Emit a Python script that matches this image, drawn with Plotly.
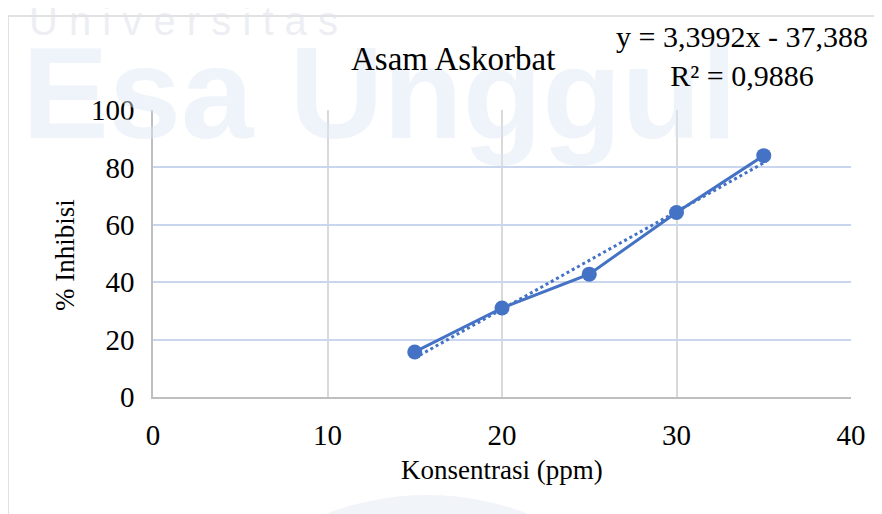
import plotly.graph_objects as go

# ---- data ----
konsentrasi = [15, 20, 25, 30, 35]
inhibisi = [15.7, 31.0, 42.8, 64.3, 84.1]
trend_slope = 3.3992
trend_intercept = -37.388
r_squared = 0.9886
x_ticks = [0, 10, 20, 30, 40]
y_ticks = [0, 20, 40, 60, 80, 100]

BLUE = "#4472C4"
SERIF = "Liberation Serif"

# page offset (default body margin of the html page)
OFF = 8
FW, FH = 882 - OFF, 514 - OFF
# plot-area geometry in page pixels
L, R, T, B = 153, 851, 110, 397
W, H = R - L, B - T
def px(x):
    return (x - L) / W
def py(y):
    return (B - y) / H

trend_x = [konsentrasi[0], konsentrasi[-1]]
trend_y = [trend_slope * v + trend_intercept for v in trend_x]

def fmt(v, nd):
    return f"{abs(v):.{nd}f}".replace(".", ",")

eq_text = (f"y = {fmt(trend_slope, 4)}x {'-' if trend_intercept < 0 else '+'} {fmt(trend_intercept, 3)}"
           f"<br>R² = {fmt(r_squared, 4)}")

fig = go.Figure()
fig.add_trace(go.Scatter(
    x=trend_x, y=trend_y, mode="lines",
    line=dict(color=BLUE, width=3, dash="dot"),
    showlegend=False, hoverinfo="skip"))
fig.add_trace(go.Scatter(
    x=konsentrasi, y=inhibisi, mode="lines+markers",
    line=dict(color=BLUE, width=3),
    marker=dict(color=BLUE, size=15),
    showlegend=False))

shapes = [
    # watermark circle (logo arc)
    dict(type="circle", xref="paper", yref="paper",
         x0=px(147), x1=px(707), y0=py(1055), y1=py(495),
         fillcolor="#f1f4f9", line=dict(width=0), layer="below"),
    # chart border
    dict(type="line", xref="paper", yref="paper",
         x0=px(8), x1=px(8), y0=py(16), y1=py(520),
         line=dict(color="#d9d9d9", width=1.5)),
    dict(type="line", xref="paper", yref="paper",
         x0=px(8), x1=px(890), y0=py(16), y1=py(16),
         line=dict(color="#d9d9d9", width=1.5)),
]

annotations = [
    dict(text="U n i v e r s i t a s", xref="paper", yref="paper",
         x=px(27), y=py(21), xanchor="left", yanchor="middle", showarrow=False,
         font=dict(family="Liberation Sans", size=40,
                   color="rgba(225,228,235,0.6)")),
    dict(text="<b>Esa Unggul</b>", xref="paper", yref="paper",
         x=px(20), y=py(93), xanchor="left", yanchor="middle", showarrow=False,
         font=dict(family="Liberation Sans", size=130,
                   color="rgba(220,230,245,0.45)")),
    dict(text="Asam Askorbat", xref="paper", yref="paper",
         x=px(453), y=py(59), xanchor="center", yanchor="middle", showarrow=False,
         font=dict(family=SERIF, size=33, color="#000000")),
    dict(text=eq_text, xref="paper", yref="paper",
         x=px(742), y=py(56), xanchor="center", yanchor="middle", showarrow=False,
         align="center", font=dict(family=SERIF, size=30, color="#000000")),
    dict(text="% Inhibisi", xref="paper", yref="paper",
         x=px(65), y=py(255), xanchor="center", yanchor="middle", showarrow=False,
         textangle=-90, font=dict(family=SERIF, size=27, color="#000000")),
    dict(text="Konsentrasi (ppm)", xref="paper", yref="paper",
         x=px(502), y=py(470), xanchor="center", yanchor="middle", showarrow=False,
         font=dict(family=SERIF, size=27, color="#000000")),
]

fig.update_layout(
    width=FW, height=FH,
    margin=dict(l=L - OFF, r=882 - R, t=T - OFF, b=514 - B),
    paper_bgcolor="white", plot_bgcolor="rgba(0,0,0,0)",
    shapes=shapes, annotations=annotations,
    showlegend=False,
)
fig.update_xaxes(
    range=[0, 40], tickvals=x_ticks, ticktext=[str(v) for v in x_ticks],
    showgrid=True, gridcolor="#d9d9d9", gridwidth=1.5,
    showline=True, linecolor="#bfbfbf", linewidth=1.5,
    zeroline=False, ticks="outside", ticklen=11, tickcolor="rgba(0,0,0,0)",
    tickfont=dict(family=SERIF, size=29, color="#000000"),
)
fig.update_yaxes(
    range=[0, 100], tickvals=y_ticks, ticktext=[str(v) for v in y_ticks],
    showgrid=True, gridcolor="#c9d6ee", gridwidth=1.5,
    showline=True, linecolor="#bfbfbf", linewidth=1.5,
    zeroline=False, ticks="outside", ticklen=11, tickcolor="rgba(0,0,0,0)",
    tickfont=dict(family=SERIF, size=29, color="#000000"),
)

fig.write_html("out.html")
